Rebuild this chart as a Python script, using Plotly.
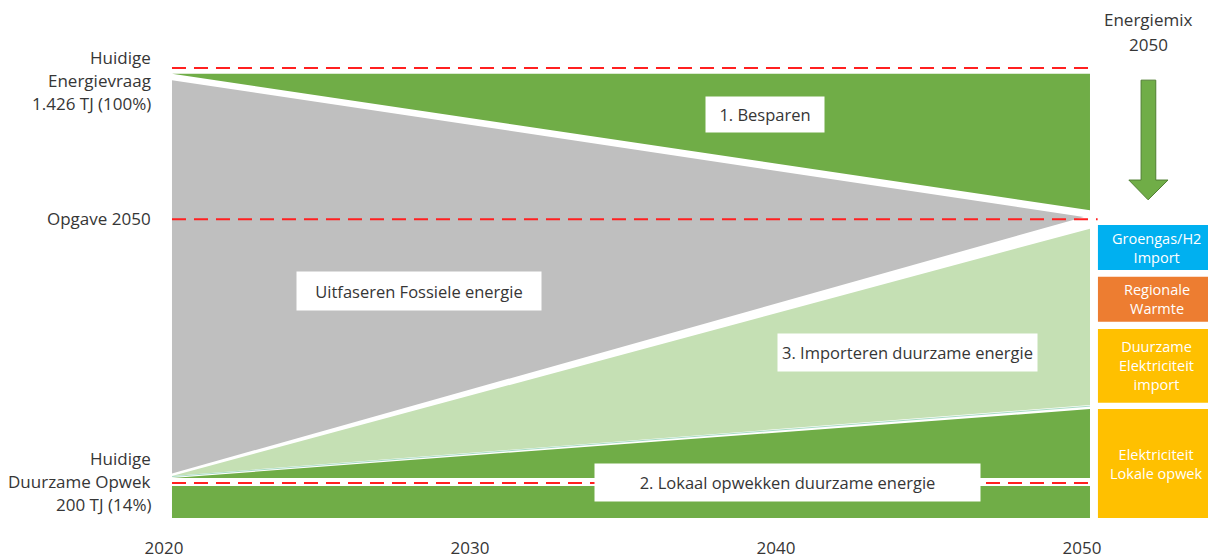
import plotly.graph_objects as go

# ---------------- data (schematic units: % of current energy demand) ----------------
years = [2020, 2030, 2040, 2050]
year_labels = ["2020", "2030", "2040", "2050"]

# region outlines (x in years, y in schematic % units)
besparen_x = [2020, 2050, 2050, 2020]
besparen_y = [98.7, 98.7, 68.4, 98.7]
fossiel_x = [2020, 2049.8, 2020, 2020]
fossiel_y = [97.3, 66.9, 9.9, 97.3]
import_x = [2020, 2050, 2050, 2020]
import_y = [9.35, 64.3, 25.1, 9.35]
lokaal_x = [2020, 2050, 2050, 2020]
lokaal_y = [8.9, 24.2, 8.9, 8.9]
huidig_x = [2020, 2050, 2050, 2020]
huidig_y = [7.1, 7.1, 0, 0]
seam_x = [2020, 2050]
seam_y = [9.2, 24.85]

# reference (dashed) levels
ref_levels = [100, 66.4, 7.8]
ref_ends = [2050, 2050.25, 2050]

# energy mix 2050 boxes
mix_labels = ["Groengas/H2<br>Import", "Regionale<br>Warmte",
              "Duurzame<br>Elektriciteit<br>import", "Elektriciteit<br>Lokale opwek"]
mix_top = [65.1, 53.6, 42.0, 24.2]
mix_bottom = [55.1, 43.6, 25.6, 0.0]
mix_colors = ["#00b0f0", "#ed7d31", "#ffc000", "#ffc000"]
mix_x0, mix_x1 = 2050.26, 2054.3
mix_xc = 2052.18

# arrow
arrow_x = [2051.67, 2052.15, 2052.15, 2052.55, 2051.9, 2051.27, 2051.67, 2051.67]
arrow_y = [97.3, 97.3, 75.1, 75.1, 70.7, 75.1, 75.1, 97.3]

# in-chart labels
box_texts = ["1. Besparen", "Uitfaseren Fossiele energie",
             "3. Importeren duurzame energie", "2. Lokaal opwekken duurzame energie"]
box_x = [2039.38, 2028.07, 2044.02, 2040.13]
box_y = [89.6, 50.4, 36.7, 7.9]
box_w = [116, 242, 257, 383]
box_h = [33, 36, 35, 35]

left_lines = ["Huidige", "Energievraag", "1.426 TJ (100%)", "Opgave 2050",
              "Huidige", "Duurzame Opwek", "200 TJ (14%)"]
left_y = [102.4, 97.3, 92.2, 66.6, 13.3, 8.2, 3.1]

# ---------------- figure ----------------
FONT = "Open Sans"
TXT = "#363636"
DGREEN = "#70ad47"
LGREEN = "#c5e0b4"
GRAY = "#bfbfbf"

fig = go.Figure()

def poly(x, y, color, line=None, lw=0):
    fig.add_trace(go.Scatter(x=x, y=y, mode="lines", fill="toself", fillcolor=color,
                             line=dict(color=line or color, width=lw),
                             hoverinfo="skip", showlegend=False))

poly(besparen_x, besparen_y, DGREEN)
poly(fossiel_x, fossiel_y, GRAY)
poly(import_x, import_y, LGREEN)
poly(lokaal_x, lokaal_y, DGREEN)
poly(huidig_x, huidig_y, DGREEN)
fig.add_trace(go.Scatter(x=seam_x, y=seam_y, mode="lines",
                         line=dict(color="#a9dcc6", width=1),
                         hoverinfo="skip", showlegend=False))

for lvl, xe in zip(ref_levels, ref_ends):
    fig.add_trace(go.Scatter(x=[2020, xe], y=[lvl, lvl], mode="lines",
                             line=dict(color="#ff2020", width=2, dash="14px,8px"),
                             hoverinfo="skip", showlegend=False))

# energy mix boxes
for lab, t, b, c in zip(mix_labels, mix_top, mix_bottom, mix_colors):
    fig.add_shape(type="rect", x0=mix_x0, x1=mix_x1, y0=b, y1=t,
                  fillcolor=c, line=dict(width=0), layer="above")
    fig.add_annotation(x=mix_xc, y=(t + b) / 2, text=lab, showarrow=False,
                       font=dict(family=FONT, size=14.5, color="white"))

poly(arrow_x, arrow_y, DGREEN, line="#507e32", lw=1)

for t, x, y, w, h in zip(box_texts, box_x, box_y, box_w, box_h):
    fig.add_annotation(x=x, y=y, text=t, showarrow=False, width=w, height=h,
                       bgcolor="white", font=dict(family=FONT, size=16.5, color=TXT))

for t, y in zip(left_lines, left_y):
    fig.add_annotation(x=2019.38, y=y, text=t, showarrow=False, xanchor="right",
                       font=dict(family=FONT, size=17, color=TXT))

fig.add_annotation(x=2051.9, y=110.7, text="Energiemix", showarrow=False,
                   font=dict(family=FONT, size=17, color=TXT))
fig.add_annotation(x=2051.9, y=105.3, text="2050", showarrow=False,
                   font=dict(family=FONT, size=17, color=TXT))

# page body has an 8px default margin: figure is 8px smaller and starts at (8, 8)
fig.update_layout(
    width=1208, height=550,
    margin=dict(l=0, r=0, t=0, b=22),
    paper_bgcolor="white", plot_bgcolor="white",
    xaxis=dict(range=[2014.641, 2054.118], tickvals=years, ticktext=year_labels,
               showgrid=False, zeroline=False, showline=False, ticks="",
               ticklabelshift=-8, tickfont=dict(family=FONT, size=17, color=TXT),
               fixedrange=True),
    yaxis=dict(range=[-4.0, 113.33], visible=False, fixedrange=True),
)

fig.write_html("out.html")
